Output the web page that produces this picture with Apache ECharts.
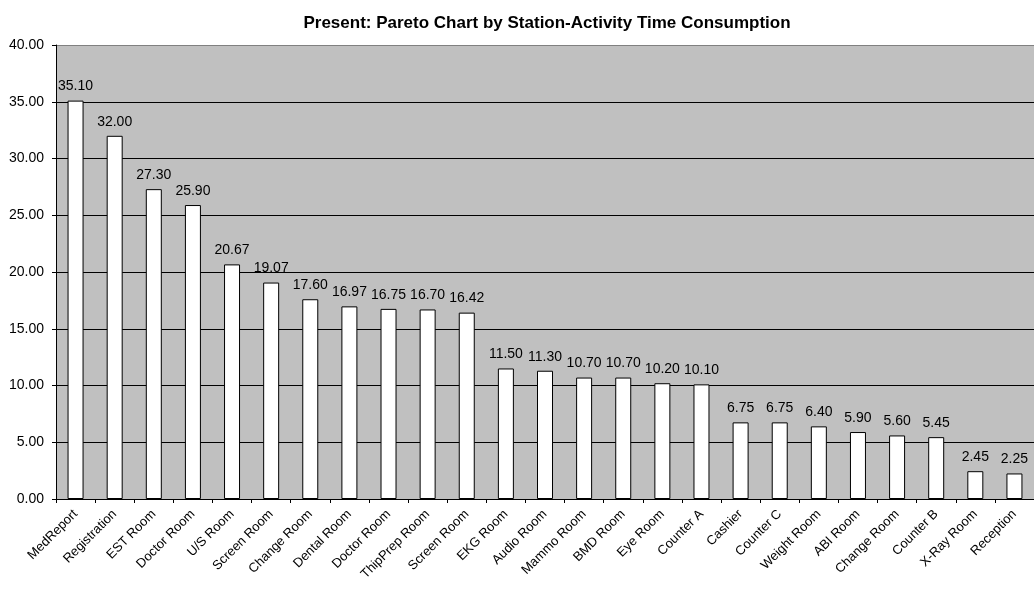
<!DOCTYPE html>
<html>
<head>
<meta charset="utf-8">
<script src="https://cdn.jsdelivr.net/npm/echarts@6/dist/echarts.min.js"></script>
<style>
  html, body { margin: 0; padding: 0; background: #fff; }
  #chart { width: 1034px; height: 589px; }
</style>
</head>
<body>
<div id="chart"></div>
<script>
const stations = ["MedReport","Registration","EST Room","Doctor Room","U/S Room","Screen Room","Change Room","Dental Room","Doctor Room","ThipPrep Room","Screen Room","EKG Room","Audio Room","Mammo Room","BMD Room","Eye Room","Counter A","Cashier","Counter C","Weight Room","ABI Room","Change Room","Counter B","X-Ray Room","Reception"];
const minutes = [35.10,32.00,27.30,25.90,20.67,19.07,17.60,16.97,16.75,16.70,16.42,11.50,11.30,10.70,10.70,10.20,10.10,6.75,6.75,6.40,5.90,5.60,5.45,2.45,2.25];

const chart = echarts.init(document.getElementById("chart"));
const font = "Liberation Sans, Arial, sans-serif";

chart.setOption({
    animation: false,
    title: {
        text: "Present: Pareto Chart by Station-Activity Time Consumption",
        left: 542,
        textAlign: "center",
        top: 10,
        textStyle: { fontFamily: font, fontSize: 17, fontWeight: "bold", color: "#000" }
    },
    grid: {
        left: 56, top: 45, bottom: 90, right: -12,
        show: true, backgroundColor: "#c0c0c0", borderWidth: 0
    },
    xAxis: {
        type: "category",
        data: stations,
        axisLine: { lineStyle: { color: "#000" } },
        axisTick: { show: true, length: 4, lineStyle: { color: "#000" } },
        axisLabel: {
            interval: 0, rotate: 45, margin: 13,
            fontFamily: font, fontSize: 13, color: "#000"
        }
    },
    yAxis: {
        type: "value",
        min: 0, max: 40, interval: 5,
        axisLine: { show: true, lineStyle: { color: "#000" } },
        axisTick: { show: true, length: 4, lineStyle: { color: "#000" } },
        axisLabel: {
            margin: 12, fontFamily: font, fontSize: 14, color: "#000",
            formatter: v => v.toFixed(2)
        },
        splitLine: {
            lineStyle: { color: ["#000","#000","#000","#000","#000","#000","#000","#000","#808080"], width: 1 }
        }
    },
    series: [{
        type: "bar",
        data: minutes,
        barWidth: 16,
        itemStyle: { color: "#fff", borderColor: "#000", borderWidth: 1 },
        label: {
            show: true, position: "top", distance: 7,
            fontFamily: font, fontSize: 14, color: "#000",
            formatter: p => p.value.toFixed(2)
        }
    }]
});
</script>
</body>
</html>
